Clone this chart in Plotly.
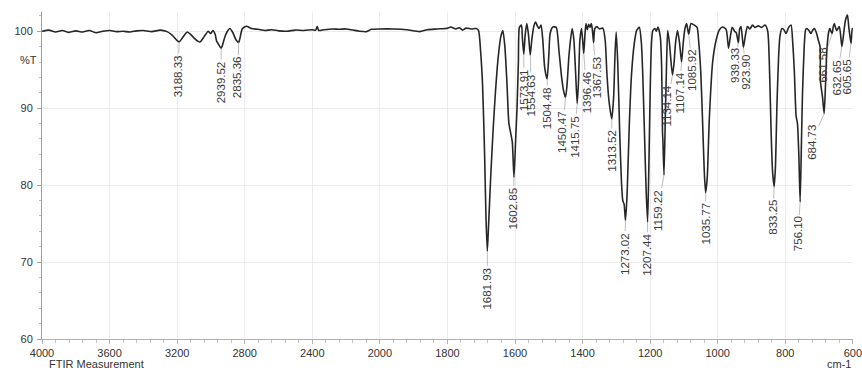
import plotly.graph_objects as go

# ---------------- data ----------------
wavenumber = [
    4000, 3960, 3920, 3880, 3840, 3800, 3760, 3720, 3680, 3640, 3600, 3560, 3520, 3480,
    3440, 3400, 3350, 3300, 3260, 3230, 3205, 3188, 3170, 3150, 3140, 3120, 3095, 3065,
    3040, 3016, 3002, 2988, 2975, 2966, 2955, 2940, 2930, 2920, 2905, 2888, 2870, 2852,
    2836, 2826, 2815, 2790, 2760, 2720, 2680, 2640, 2600, 2550, 2500, 2450, 2400, 2380,
    2371, 2362, 2330, 2280, 2240, 2200, 2160, 2120, 2079, 2050, 2000,
    1960, 1920, 1882, 1860, 1830, 1800, 1790, 1775, 1765, 1755, 1745, 1730, 1715, 1708,
    1702, 1696, 1690, 1686, 1682, 1678, 1672, 1665, 1658, 1650, 1642, 1636, 1630, 1624,
    1618, 1612, 1608, 1603, 1598, 1594, 1590, 1587, 1581, 1578, 1574, 1570, 1565, 1560,
    1555, 1550, 1544, 1539, 1533, 1529, 1523, 1518, 1512, 1505, 1500, 1496, 1488, 1478,
    1470, 1462, 1456, 1450.5, 1446, 1440, 1431, 1426, 1421, 1416, 1412, 1408, 1403, 1396.5,
    1393, 1390, 1386, 1382, 1378, 1374, 1371, 1367.5, 1364, 1358, 1350, 1340, 1333, 1328,
    1322, 1313.5, 1308, 1304, 1300.5, 1296, 1290, 1285, 1281, 1277, 1273, 1268, 1262, 1255,
    1247, 1240, 1232, 1226, 1222, 1217, 1212, 1207.5, 1204, 1200, 1196, 1192, 1186, 1182,
    1177, 1170, 1166, 1163.5, 1162, 1159, 1155, 1151, 1148, 1143, 1134, 1129, 1125, 1119,
    1113, 1107, 1102, 1097, 1092, 1086, 1079, 1069, 1061, 1056, 1050, 1045, 1040, 1036,
    1031, 1025, 1015, 1005, 995, 985, 975, 968, 962, 957, 950, 945, 939, 935, 931, 924, 918,
    912, 905, 897, 890, 880, 870, 860, 852, 847, 842, 838, 833, 829, 825, 820, 816, 810, 804,
    798, 790, 783, 778, 773, 768, 764, 760, 756, 752, 749, 744, 740, 737, 730, 724, 718, 714,
    708, 702, 697, 696, 690, 685, 681, 677, 672, 668, 665, 661.5, 658, 655, 648, 640, 632.5,
    627, 622, 616, 612, 605.5, 602, 600,
]
transmittance = [
    100.0, 100.15, 99.9, 100.1, 99.85, 100.05, 99.9, 100.1, 99.8, 100.0, 100.1, 99.95, 100.0, 99.9,
    100.05, 100.1, 99.95, 100.15, 99.95, 99.5, 98.9, 98.6, 99.1, 99.7, 99.9, 99.6, 99.0, 98.6,
    99.3, 100.0, 99.7, 100.1, 99.6, 98.7, 98.3, 97.8, 98.3, 99.1, 99.9, 100.35, 99.8, 98.9,
    98.55, 99.3, 100.3, 100.65, 100.35, 100.25, 100.1, 100.2, 100.05, 100.0, 100.15, 100.1, 100.2, 100.15,
    100.6, 100.1, 100.2, 100.3, 100.25, 100.3, 100.15, 100.0, 99.95, 100.25, 100.3,
    100.3, 100.2, 99.95, 100.2, 100.3, 100.4, 100.55, 100.3, 100.45, 100.15, 100.4, 100.3, 100.35, 100.1,
    97.5, 93.0, 84.0, 76.0, 71.4, 75.0, 81.0, 87.0, 92.0, 96.5, 99.3, 100.1, 98.0, 93.4,
    88.0, 86.6, 85.6, 81.0, 86.0, 90.0, 96.0, 100.5, 100.8, 99.0, 97.0, 99.5, 101.0, 99.5,
    96.9, 99.0, 100.7, 101.2, 100.6, 100.35, 100.8, 99.0, 95.2, 93.8, 96.8, 99.7, 100.55, 100.5,
    97.5, 94.0, 92.2, 91.4, 93.0, 97.0, 100.35, 99.0, 95.0, 90.6, 93.5, 98.8, 100.35, 97.1,
    99.5, 101.0, 100.2, 100.9, 100.5, 101.0, 100.2, 98.5, 100.3, 100.6, 100.3, 100.4, 98.8, 94.5,
    91.0, 88.6, 91.5, 97.0, 99.9, 96.0, 86.7, 80.5, 78.0, 77.5, 75.4, 79.0, 87.5, 94.5,
    98.4, 100.1, 100.5, 98.5, 94.5, 87.0, 79.5, 75.2, 82.0, 92.0, 98.5, 100.1, 100.35, 100.0,
    100.55, 99.3, 95.4, 87.0, 85.5, 81.3, 89.0, 96.5, 100.1, 98.5, 94.3, 96.0, 98.4, 100.1,
    98.5, 96.0, 98.5, 100.35, 101.0, 99.6, 101.0, 100.8, 100.5, 98.5, 94.5, 88.5, 82.0, 79.0,
    81.0, 88.5, 96.0, 98.8, 100.2, 100.55, 100.2, 97.8, 99.5, 100.5, 100.0, 99.8, 98.5, 100.3, 100.6, 97.9, 99.5,
    100.6, 100.3, 100.8, 100.5, 100.7, 100.5, 100.8, 100.0, 95.5, 87.0, 82.0, 79.8, 82.5, 90.0, 96.5, 99.3, 100.35, 100.2,
    99.7, 100.5, 100.8, 98.5, 94.5, 89.0, 88.0, 84.0, 77.8, 86.0, 92.0, 98.0, 100.2, 100.35, 100.1, 99.7, 100.2, 100.35,
    99.8, 98.8, 98.0, 93.5, 91.5, 89.3, 93.0, 97.5, 99.8, 100.35, 100.0, 99.7, 100.6, 101.0, 100.1, 100.6, 98.0,
    99.8, 101.4, 102.1, 100.5, 98.4, 100.35, 100.2,
]

peak_labels = [
    "3188.33", "2939.52", "2835.36", "1681.93", "1602.85", "1573.91", "1554.63",
    "1504.48", "1450.47", "1415.75", "1396.46", "1367.53", "1313.52", "1273.02",
    "1207.44", "1159.22", "1134.14", "1107.14", "1085.92", "1035.77", "939.33",
    "923.90", "833.25", "756.10", "684.73", "661.58", "632.65", "605.65",
]
peak_wavenumber = [float(s) for s in peak_labels]
peak_transmittance = [
    98.6, 97.8, 98.55, 71.4, 81.0, 97.0, 96.9,
    93.8, 91.4, 90.6, 97.1, 98.5, 88.6, 75.4,
    75.2, 81.3, 94.3, 96.0, 99.6, 79.0, 98.5,
    97.9, 79.8, 77.8, 89.3, 99.7, 98.0, 98.4,
]

x_tick_values = [4000, 3600, 3200, 2800, 2400, 2000, 1800, 1600, 1400, 1200, 1000, 800, 600]
y_tick_values = [60, 70, 80, 90, 100]

# label placement (pixel offsets of each rotated label centre from its peak)
label_dx = [-1, 0, -1, 0, -1, 0, 1, 0, -3, -3, 3, 3, 0, -1,
            -1, -6, -5, -2, 4, 0, -3, 3, -1, -2, -13, -10, -5, -4]
label_dy = [34, 34, 35, 37, 31, 36, 40, 29, 35, 33, 39, 35, 32, 33,
            33, 35, 31, 31, 36, 31, 23, 25, 31, 32, 29, 32, 31, 33]


def to_axis(w):
    """Split wavenumber scale: 4000-2000 drawn at half the scale of 2000-600."""
    return w if w <= 2000 else 2000 + (w - 2000) / 2.0


FONT = "Liberation Sans, Arial, sans-serif"

fig = go.Figure()
fig.add_trace(go.Scatter(
    x=[to_axis(w) for w in wavenumber], y=transmittance,
    mode="lines", line=dict(color="#262626", width=1.6, shape="spline", smoothing=0.6),
    hoverinfo="skip", showlegend=False,
))

annotations = []
for lab, pw, pt, dx, dy in zip(peak_labels, peak_wavenumber, peak_transmittance, label_dx, label_dy):
    annotations.append(dict(
        x=to_axis(pw), y=pt, xref="x", yref="y", text=lab, textangle=-90,
        showarrow=True, arrowhead=0, arrowwidth=0.7, arrowcolor="#a0a0a0",
        ax=dx, ay=dy, font=dict(family=FONT, size=11.5, color="#3a3a3a"),
    ))

annotations += [
    dict(x=0, xref="paper", xshift=-24, y=96.2, yref="y", text="%T", showarrow=False,
         font=dict(family=FONT, size=11, color="#333")),
    dict(x=0, xref="paper", xshift=5, xanchor="left", y=0, yref="paper", yshift=-25,
         yanchor="middle", text="FTIR Measurement", showarrow=False,
         font=dict(family=FONT, size=11, color="#333")),
    dict(x=1, xref="paper", xanchor="right", y=0, yref="paper", yshift=-25,
         yanchor="middle", text="cm-1", showarrow=False,
         font=dict(family=FONT, size=11, color="#333")),
]

fig.update_layout(
    width=862, height=370,
    margin=dict(l=42, r=9, t=12, b=31),
    plot_bgcolor="white", paper_bgcolor="white",
    font=dict(family=FONT, size=11, color="#333"),
    showlegend=False,
    annotations=annotations,
)
fig.update_xaxes(
    range=[3000, 599.6],
    automargin=False,
    tickmode="array",
    tickvals=[to_axis(v) for v in x_tick_values],
    ticktext=[str(v) for v in x_tick_values],
    ticklabeloverflow="allow",
    showgrid=True, gridcolor="#ececec", gridwidth=1,
    showline=True, linecolor="#b0b0b0", linewidth=1,
    ticks="outside", ticklen=4, tickcolor="#b0b0b0",
    minor=dict(tickmode="array", tickvals=list(range(600, 3001, 40)),
               ticks="outside", ticklen=3, tickcolor="#c4c4c4", showgrid=False),
    zeroline=False, tickfont=dict(family=FONT, size=11, color="#333"),
)
fig.update_yaxes(
    range=[60, 102.5],
    automargin=False,
    tickmode="array", tickvals=y_tick_values,
    showgrid=True, gridcolor="#ececec", gridwidth=1,
    showline=True, linecolor="#a0a0a0", linewidth=1,
    ticks="outside", ticklen=4, tickcolor="#a0a0a0",
    minor=dict(dtick=2, ticks="outside", ticklen=2, tickcolor="#b8b8b8", showgrid=False),
    zeroline=False, tickfont=dict(family=FONT, size=11, color="#333"),
    ticklabelstandoff=2,
)

fig.write_html("out.html")
